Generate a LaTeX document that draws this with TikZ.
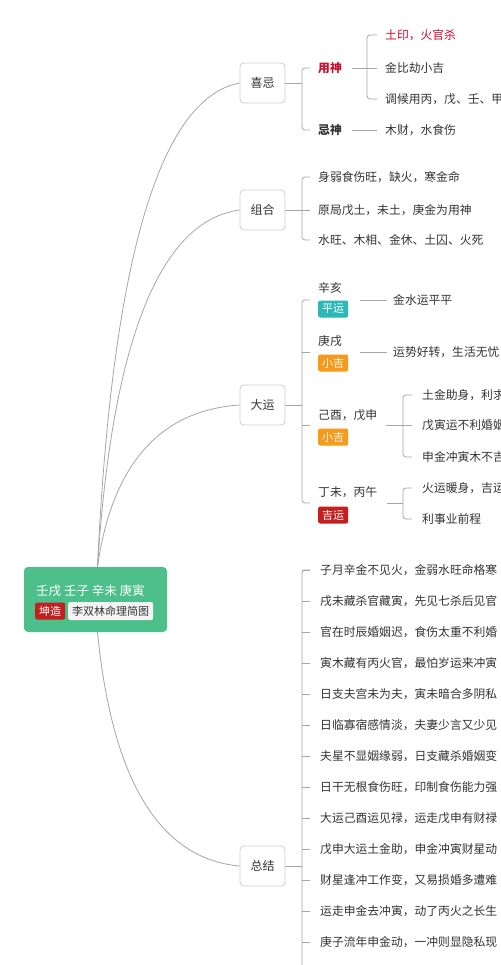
\documentclass[tikz,border=0pt]{standalone}
\usepackage{fontspec}
\setmainfont{Noto Sans CJK SC}
\definecolor{txtc}{HTML}{333333}
\definecolor{lnc}{HTML}{A6A6A6}
\definecolor{bdc}{HTML}{CFCFCF}
\definecolor{grnc}{HTML}{4DBF8A}
\definecolor{redtxt}{HTML}{C8102E}
\definecolor{redtag}{HTML}{C41F1F}
\definecolor{tealtag}{HTML}{2DB7B7}
\definecolor{orgtag}{HTML}{F59A1B}
\definecolor{paletag}{HTML}{F4F4F4}
\tikzset{
  topic/.style={draw=bdc, fill=white, rounded corners=4pt, line width=0.8pt, minimum width=45pt, minimum height=40pt, inner sep=0pt, font=\fontsize{12}{14}\selectfont, text=txtc},
  leaf/.style={anchor=west, inner sep=0pt, font=\fontsize{11.8}{14}\selectfont, text=txtc},
  tagbox/.style={fill=#1, text=white, rounded corners=2pt, minimum width=30pt, minimum height=17pt, inner sep=0pt, font=\fontsize{11}{13}\selectfont, anchor=west},
  conn/.style={draw=lnc, line width=0.8pt},
  br/.style={conn, rounded corners=3pt},
}
\begin{document}
\begin{tikzpicture}[x=1pt,y=-1pt]
\useasboundingbox (0,0) rectangle (500,965);
\clip (0,0) rectangle (500,965);
\fill[white] (0,0) rectangle (500,965);

% root
\node[fill=grnc, rounded corners=4pt, minimum width=143pt, minimum height=65pt, inner sep=0pt] (root) at (95.5,599.5) {};
\node[anchor=west, inner sep=0pt, text=white, font=\fontsize{12.5}{14}\selectfont] (rline) at (36,591) {壬戌 壬子 辛未 庚寅};
\node[tagbox=redtag] (kz) at (35,611) {坤造};
\node[fill=paletag, rounded corners=2pt, minimum height=18pt, inner sep=0pt, inner xsep=4pt, anchor=west, text=txtc, font=\fontsize{11}{13}\selectfont] (li) at (68,611) {李双林命理简图};

% topics
\node[topic] (xiji) at (262.5,83) {喜忌};
\node[topic] (zuhe) at (262.5,210) {组合};
\node[topic] (dayun) at (262.5,405) {大运};
\node[topic] (zongjie) at (262.5,866) {总结};

\draw[conn] ([xshift=2pt]root.north) .. controls (110,300) and (150,100) .. (xiji.west);
\draw[conn] ([xshift=2pt]root.north) .. controls (110,371) and (150,222) .. (zuhe.west);
\draw[conn] ([xshift=2pt]root.north) .. controls (110,478) and (150,411) .. (dayun.west);
\draw[conn] ([xshift=2pt]root.south) .. controls (110,761) and (150,858) .. (zongjie.west);

% ---- 喜忌
\node[leaf, font=\fontsize{11.8}{14}\selectfont\bfseries, text=redtxt] (ys) at (318,68) {用神};
\node[leaf, font=\fontsize{11.8}{14}\selectfont\bfseries] (js) at (318,130) {忌神};
\draw[br] ([xshift=-8pt]ys.west) -- ([xshift=-16pt]ys.west) -- ([xshift=-16pt]js.west) -- ([xshift=-8pt]js.west);
\draw[conn] (xiji.east) -- (xiji.east -| 302,0);

\node[leaf, text=redtxt] (ys1) at (385,35) {土印，火官杀};
\node[leaf] (ys2) at (385,68) {金比劫小吉};
\node[leaf] (ys3) at (385,99) {调候用丙，戊、壬、甲};
\draw[br] ([xshift=-8pt]ys1.west) -- ([xshift=-18pt]ys1.west) -- ([xshift=-18pt]ys3.west) -- ([xshift=-8pt]ys3.west);
\draw[conn] ([xshift=10pt]ys.east) -- ([xshift=-8pt]ys2.west);

\node[leaf] (js1) at (385,130) {木财，水食伤};
\draw[conn] ([xshift=10pt]js.east) -- ([xshift=-8pt]js1.west);

% ---- 组合
\node[leaf] (zh1) at (318,177) {身弱食伤旺，缺火，寒金命};
\node[leaf] (zh2) at (318,210) {原局戊土，未土，庚金为用神};
\node[leaf] (zh3) at (318,240) {水旺、木相、金休、土囚、火死};
\draw[br] ([xshift=-8pt]zh1.west) -- ([xshift=-16pt]zh1.west) -- ([xshift=-16pt]zh3.west) -- ([xshift=-8pt]zh3.west);
\draw[conn] (zuhe.east) -- ([xshift=-8pt]zh2.west);

% ---- 大运
\node[leaf] (d1a) at (318,288) {辛亥};
\node[tagbox=tealtag] (d1b) at (318,309) {平运};
\node[leaf] (d2a) at (318,341) {庚戌};
\node[tagbox=orgtag] (d2b) at (318,363) {小吉};
\node[leaf] (d3a) at (318,415) {己酉，戊申};
\node[tagbox=orgtag] (d3b) at (318,437) {小吉};
\node[leaf] (d4a) at (318,492) {丁未，丙午};
\node[tagbox=redtag] (d4b) at (318,515) {吉运};
\coordinate (d1) at (310,300);
\coordinate (d2) at (310,352);
\coordinate (d3) at (310,425);
\coordinate (d4) at (310,503);
\draw[br] (d1) -- (302,300) -- (302,503) -- (d4);
\draw[conn] (d2) -- (302,352);
\draw[conn] (d3) -- (302,425);
\draw[conn] (dayun.east) -- (dayun.east -| 302,0);

\node[leaf] (d1c) at (393,300) {金水运平平};
\draw[conn] (360,300) -- ([xshift=-6pt]d1c.west);
\node[leaf] (d2c) at (393,352) {运势好转，生活无忧};
\draw[conn] (360,352) -- ([xshift=-6pt]d2c.west);

\node[leaf] (d3c1) at (422,395) {土金助身，利求财};
\node[leaf] (d3c2) at (422,425) {戊寅运不利婚姻};
\node[leaf] (d3c3) at (422,457) {申金冲寅木不吉};
\draw[br] ([xshift=-10pt]d3c1.west) -- ([xshift=-19pt]d3c1.west) -- ([xshift=-19pt]d3c3.west) -- ([xshift=-10pt]d3c3.west);
\draw[conn] ([xshift=9pt]d3a.east |- d3c2.west) -- ([xshift=-10pt]d3c2.west);

\node[leaf] (d4c1) at (422,488) {火运暖身，吉运};
\node[leaf] (d4c2) at (422,519) {利事业前程};
\draw[br] ([xshift=-10pt]d4c1.west) -- ([xshift=-19pt]d4c1.west) -- ([xshift=-19pt]d4c2.west) -- ([xshift=-10pt]d4c2.west);
\draw[conn] (387,503) -- (403,503);

% ---- 总结
\foreach \t [count=\i from 0] in {
  子月辛金不见火，金弱水旺命格寒,
  戌未藏杀官藏寅，先见七杀后见官,
  官在时辰婚姻迟，食伤太重不利婚,
  寅木藏有丙火官，最怕岁运来冲寅,
  日支夫宫未为夫，寅未暗合多阴私,
  日临寡宿感情淡，夫妻少言又少见,
  夫星不显姻缘弱，日支藏杀婚姻变,
  日干无根食伤旺，印制食伤能力强,
  大运己酉运见禄，运走戊申有财禄,
  戊申大运土金助，申金冲寅财星动,
  财星逢冲工作变，又易损婚多遭难,
  运走申金去冲寅，动了丙火之长生,
  庚子流年申金动，一冲则显隐私现}{
  \node[leaf] (z\i) at (320,570+31*\i) {\t};
  \draw[conn] ([xshift=-10pt]z\i.west) -- ([xshift=-18pt]z\i.west);
}
\draw[br] ([xshift=-10pt]z0.west) -- ([xshift=-18pt]z0.west) -- (302,980);
\draw[conn] (zongjie.east) -- (zongjie.east -| 302,0);
\end{tikzpicture}
\end{document}
